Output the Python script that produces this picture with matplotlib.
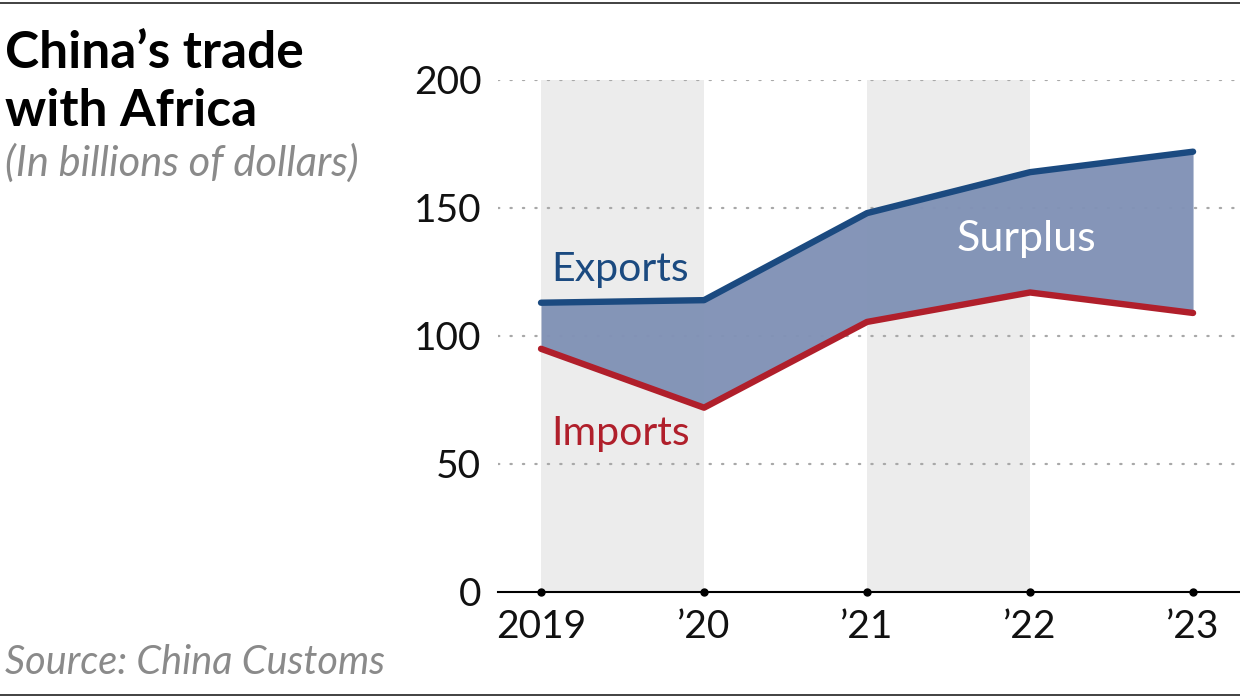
import matplotlib.pyplot as plt
from matplotlib.lines import Line2D

# data
years = [2019, 2020, 2021, 2022, 2023]
year_labels = ['2019', '\u201920', '\u201921', '\u201922', '\u201923']
exports = [113, 114, 148, 164, 172]
imports = [95, 72, 105.5, 117, 109]
y_ticks = [0, 50, 100, 150, 200]
shaded = [(2019, 2020), (2021, 2022)]

BLUE = '#1b4a80'
RED = '#b01f2b'
FILL = '#8192b6'
GRAY = '#8a8a8a'

plt.rcParams['font.family'] = ['Lato', 'DejaVu Sans']

fig = plt.figure(figsize=(12.4, 6.98), dpi=100)
ax = fig.add_axes([498 / 1240, 106 / 698, 742 / 1240, 512 / 698])

for a, b in shaded:
    ax.axvspan(a, b, ymin=0, ymax=1, color='#ececec', lw=0, zorder=0)

for t in y_ticks[1:]:
    ax.axhline(t, color='#a8a8a8', lw=1.6, ls=(0, (0.6, 5)), dash_capstyle='round', zorder=1)

ax.fill_between(years, imports, exports, color=FILL, lw=0, alpha=0.97, zorder=2)
ax.plot(years, exports, color=BLUE, lw=4.6, solid_capstyle='round', solid_joinstyle='round', zorder=3)
ax.plot(years, imports, color=RED, lw=4.6, solid_capstyle='round', solid_joinstyle='round', zorder=3)

# baseline with dots
ax.axhline(0, color='black', lw=1.5, zorder=4, clip_on=False)
ax.plot(years, [0] * len(years), 'o', color='black', ms=5, zorder=5, clip_on=False)

ax.set_xlim(2018.736, 2023.288)
ax.set_ylim(0, 200)
for s in ax.spines.values():
    s.set_visible(False)
ax.set_xticks(years)
ax.set_xticklabels(year_labels)
ax.set_yticks(y_ticks)
ax.set_yticklabels([str(t) for t in y_ticks])
ax.tick_params(length=0, labelsize=28, labelcolor='#111111')
ax.tick_params(axis='x', pad=12)
ax.tick_params(axis='y', pad=12)
ax.patch.set_alpha(0)

# series labels
ax.text(2019.06, 126, 'Exports', color=BLUE, fontsize=29.5, va='center', ha='left')
ax.text(2019.06, 62, 'Imports', color=RED, fontsize=29.5, va='center', ha='left')
ax.text(2021.975, 138, 'Surplus', color='white', fontsize=31, va='center', ha='center')

# headings
fig.text(5 / 1240, 1 - 54 / 698, 'China\u2019s trade', fontsize=37, fontweight='bold', va='center', ha='left')
fig.text(5 / 1240, 1 - 111 / 698, 'with Africa', fontsize=37, fontweight='bold', va='center', ha='left')
fig.text(5 / 1240, 1 - 163 / 698, '(In billions of dollars)', fontsize=30, style='italic',
         color=GRAY, va='center', ha='left')
fig.text(5 / 1240, 1 - 663 / 698, 'Source: China Customs', fontsize=28.5, style='italic',
         color=GRAY, va='center', ha='left')

# top and bottom rules
fig.add_artist(Line2D([0, 1], [1 - 3 / 698, 1 - 3 / 698], color='#333333', lw=1.3))
fig.add_artist(Line2D([0, 1], [1 - 695 / 698, 1 - 695 / 698], color='#333333', lw=1.3))

fig.savefig('out.png', dpi=100)
